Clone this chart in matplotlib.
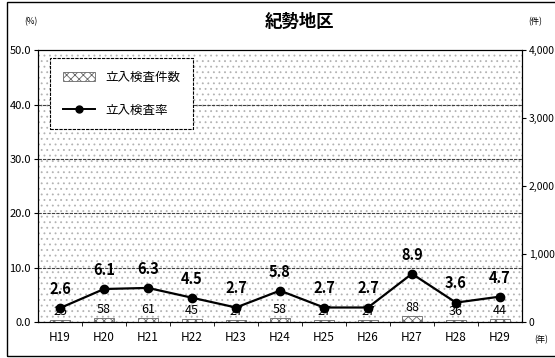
import matplotlib
matplotlib.use("Agg")
import matplotlib.pyplot as plt
from matplotlib.patches import Rectangle
from matplotlib.lines import Line2D

plt.rcParams['font.family'] = ['Noto Sans CJK JP', 'DejaVu Sans']
plt.rcParams['hatch.color'] = '0.6'
plt.rcParams['hatch.linewidth'] = 0.6

# --------------------------------------------------------------------------- #
# Data                                                                        #
# --------------------------------------------------------------------------- #
years = ["H19", "H20", "H21", "H22", "H23", "H24", "H25", "H26", "H27", "H28", "H29"]
counts = [25, 58, 61, 45, 27, 58, 27, 27, 88, 36, 44]          # 立入検査件数
rates = [2.6, 6.1, 6.3, 4.5, 2.7, 5.8, 2.7, 2.7, 8.9, 3.6, 4.7]  # 立入検査率 (%)
left_ticks = [0, 10, 20, 30, 40, 50]
right_ticks = [0, 1000, 2000, 3000, 4000]

x = list(range(len(years)))

fig = plt.figure(figsize=(5.55, 3.58), dpi=100)
ax2 = fig.add_axes([0.0685, 0.100, 0.872, 0.760])
ax = ax2.twinx()
ax.yaxis.tick_left()
ax.yaxis.set_label_position("left")
ax2.yaxis.tick_right()

# outer chart frame
fig.patches.append(Rectangle((0.012, 0.005), 0.99, 0.99, transform=fig.transFigure,
                             fill=False, lw=1.0, ec="black"))

# stippled plot area
ax2.patch.set_facecolor("white")
ax2.patch.set_hatch("...")
ax2.patch.set_edgecolor("0.7")

# bars (right axis)
ax2.bar(x, counts, width=0.45, facecolor="white", edgecolor="0.4",
        hatch="xxxx", lw=0.6, zorder=3)
ax2.set_ylim(0, 4000)
ax2.set_yticks(right_ticks)
ax2.set_yticklabels([f"{v:,}" for v in right_ticks], fontsize=7.5)
for xi, c in zip(x, counts):
    ax2.annotate(str(c), (xi, c), textcoords="offset points", xytext=(0, 1.5),
                 ha="center", va="bottom", fontsize=9, zorder=5)

# gridlines
for g in left_ticks[1:-1]:
    ax2.axhline(g * 80, color="0.25", lw=0.8, ls=(0, (3, 1)), zorder=2)

# line (left axis)
ax.set_zorder(ax2.get_zorder() + 1)
ax.patch.set_visible(False)
ax.plot(x, rates, color="black", lw=1.6, marker="o", ms=6, zorder=4)
for xi, r in zip(x, rates):
    ax.annotate(f"{r:.1f}", (xi, r), textcoords="offset points", xytext=(0, 8),
                ha="center", va="bottom", fontsize=10.5, fontweight="bold")
ax.set_ylim(0, 50)
ax.set_yticks(left_ticks)
ax.set_yticklabels([f"{v:.1f}" for v in left_ticks], fontsize=8)

ax2.set_xlim(-0.5, len(years) - 0.5)
ax2.set_xticks(x)
ax2.set_xticklabels(years, fontsize=8.5)
ax2.tick_params(axis="x", length=0, pad=6)
ax2.set_xticks([i + 0.5 for i in x[:-1]], minor=True)
ax2.tick_params(axis="x", which="minor", length=3, direction="out")
ax.tick_params(axis="y", length=3, pad=2)
ax2.tick_params(axis="y", length=3, pad=2)

for a in (ax, ax2):
    for s in a.spines.values():
        s.set_linewidth(0.8)
    a.spines["top"].set_linestyle((0, (4, 1)))

# legend
handles = [Rectangle((0, 0), 1, 1, facecolor="white", edgecolor="0.4", hatch="xxxx", lw=0.6),
           Line2D([], [], color="black", lw=1.4, marker="o", ms=5)]
leg = ax.legend(handles, ["立入検査件数", "立入検査率"], loc="upper left",
                bbox_to_anchor=(0.025, 0.97), fontsize=9, frameon=True,
                fancybox=False, labelspacing=1.6, borderpad=1.0,
                handlelength=2.6, borderaxespad=0, framealpha=1)
leg.get_frame().set_edgecolor("black")
leg.get_frame().set_linestyle((0, (3, 1)))
leg.get_frame().set_linewidth(0.8)

fig.text(0.54, 0.94, "紀勢地区", ha="center", va="center", fontsize=12.5, fontweight="bold")
fig.text(0.055, 0.94, "(%)", ha="center", va="center", fontsize=6)
fig.text(0.965, 0.94, "(件)", ha="center", va="center", fontsize=6)
fig.text(0.975, 0.05, "(年)", ha="center", va="center", fontsize=6)

fig.savefig("out.png", dpi=100)
